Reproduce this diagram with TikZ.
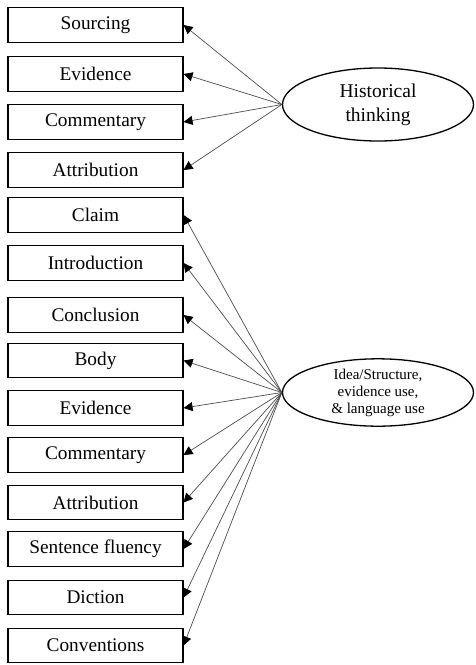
\documentclass[tikz,border=0pt]{standalone}
\usepackage{fontspec}
\setmainfont{Liberation Serif}
\usetikzlibrary{arrows.meta,shapes.geometric}

\tikzset{
  item/.style={draw=black, line width=1.1pt, minimum width=175pt, minimum height=34.5pt,
    inner sep=0pt, font=\fontsize{19.3}{22}\selectfont},
  factor/.style={draw=black, line width=1.3pt, ellipse, inner sep=0pt, align=center},
  load/.style={-{Triangle[length=9pt,width=9pt,color=black]}, line width=0.7pt, draw=black!70},
}

\begin{document}
\begin{tikzpicture}[x=1pt,y=-1pt]
\useasboundingbox (0,0) rectangle (475,665);

% latent factors
\node[factor, minimum width=191pt, minimum height=73pt,
  font=\fontsize{19.5}{24}\selectfont] (hist) at (378,104.5) {Historical\\thinking};
\node[factor, minimum width=191pt, minimum height=59pt,
  font=\fontsize{15}{17}\selectfont] (idea) at (378,392.5)
  {Idea/Structure,\\evidence use,\\\& language use};

% indicators of historical thinking
\node[item] (h1) at (95.5,25)  {Sourcing};
\node[item] (h2) at (95.5,74)  {Evidence};
\node[item] (h3) at (95.5,122) {Commentary};
\node[item] (h4) at (95.5,170) {Attribution};

% indicators of writing quality
\node[item] (w1)  at (95.5,215)   {Claim};
\node[item] (w2)  at (95.5,263)   {Introduction};
\node[item] (w3)  at (95.5,315)   {Conclusion};
\node[item] (w4)  at (95.5,360.5) {Body};
\node[item] (w5)  at (95.5,408)   {Evidence};
\node[item] (w6)  at (95.5,455)   {Commentary};
\node[item] (w7)  at (95.5,502.5) {Attribution};
\node[item] (w8)  at (95.5,549)   {Sentence fluency};
\node[item] (w9)  at (95.5,597.5) {Diction};
\node[item] (w10) at (95.5,645.5) {Conventions};

% loadings
\foreach \i in {1,...,4}
  \draw[load] (hist.west) -- (h\i.east);
\foreach \i in {1,...,10}
  \draw[load] (idea.west) -- (w\i.east);
\end{tikzpicture}
\end{document}
